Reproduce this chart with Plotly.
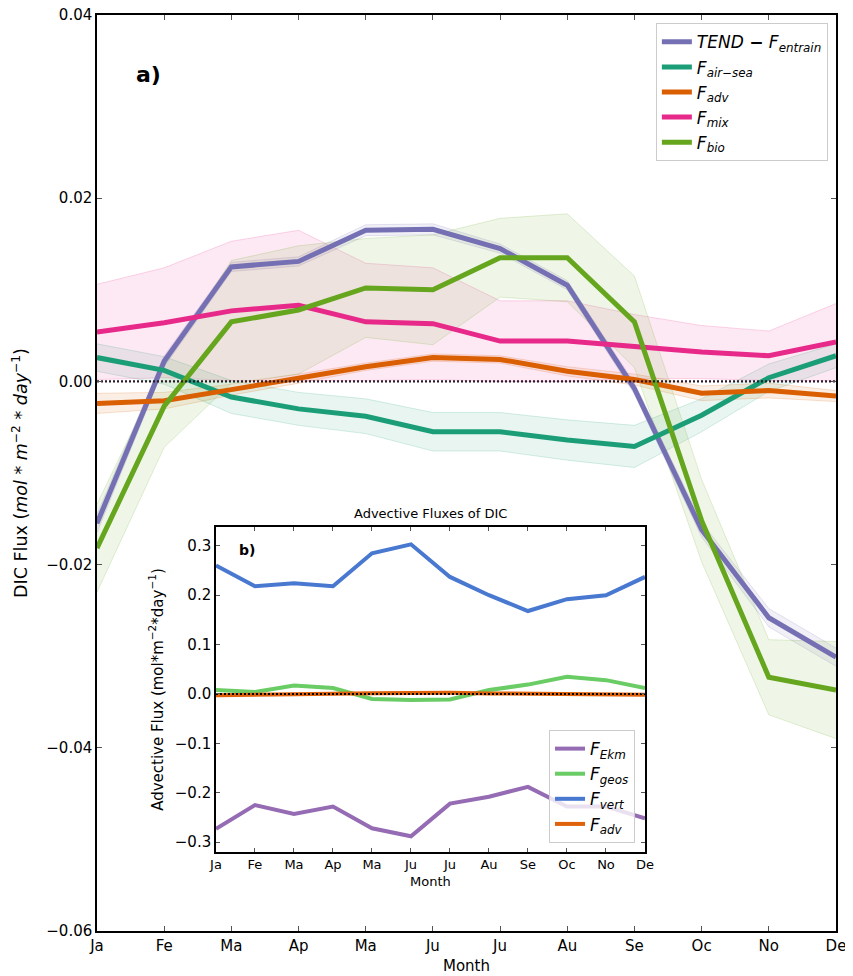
import plotly.graph_objects as go

months = ["Ja", "Fe", "Ma", "Ap", "Ma", "Ju", "Ju", "Au", "Se", "Oc", "No", "De"]
xi = list(range(12))

# Panel a) DIC flux budget terms (mol m-2 day-1)
tend = [-0.0155, 0.0022, 0.0125, 0.0131, 0.0165, 0.0166, 0.0145, 0.0105, -0.0008, -0.0162, -0.0258, -0.0301]
tend_err = [0.0010, 0.0006, 0.0005, 0.0005, 0.0006, 0.0006, 0.0005, 0.0005, 0.0006, 0.0008, 0.0010, 0.0010]
air_sea = [0.0026, 0.0012, -0.0017, -0.0030, -0.0038, -0.0055, -0.0055, -0.0064, -0.0071, -0.0037, 0.0004, 0.0028]
air_sea_err = [0.0015, 0.0015, 0.0018, 0.0018, 0.0019, 0.0021, 0.0021, 0.0022, 0.0023, 0.0018, 0.0015, 0.0013]
adv = [-0.0024, -0.0021, -0.0009, 0.0003, 0.0016, 0.0026, 0.0024, 0.0011, 0.0002, -0.0013, -0.0010, -0.0016]
adv_err = [0.0011, 0.0009, 0.0006, 0.0005, 0.0004, 0.0004, 0.0004, 0.0005, 0.0006, 0.0008, 0.0008, 0.0006]
mix = [0.0054, 0.0064, 0.0077, 0.0083, 0.0065, 0.0063, 0.0044, 0.0044, 0.0038, 0.0032, 0.0028, 0.0043]
mix_err = [0.0052, 0.0060, 0.0076, 0.0082, 0.0064, 0.0061, 0.0044, 0.0044, 0.0035, 0.0029, 0.0027, 0.0042]
bio = [-0.0182, -0.0027, 0.0065, 0.0078, 0.0102, 0.0100, 0.0135, 0.0135, 0.0065, -0.0152, -0.0323, -0.0337]
bio_err = [0.0048, 0.0045, 0.0067, 0.0070, 0.0054, 0.0060, 0.0043, 0.0048, 0.0050, 0.0045, 0.0041, 0.0053]

# Panel b) advective fluxes
f_ekm = [-0.273, -0.225, -0.243, -0.228, -0.272, -0.288, -0.222, -0.208, -0.188, -0.228, -0.228, -0.252]
f_geos = [0.008, 0.004, 0.017, 0.012, -0.010, -0.012, -0.011, 0.008, 0.019, 0.035, 0.028, 0.012]
f_vert = [0.260, 0.218, 0.224, 0.218, 0.285, 0.303, 0.237, 0.200, 0.168, 0.192, 0.200, 0.237]
f_adv_b = [-0.0024, -0.0021, -0.0009, 0.0003, 0.0016, 0.0026, 0.0024, 0.0011, 0.0002, -0.0013, -0.0010, -0.0016]

FONT = "DejaVu Sans"

def rgba(h, a):
    h = h.lstrip("#")
    r, g, b = int(h[0:2], 16), int(h[2:4], 16), int(h[4:6], 16)
    return f"rgba({r},{g},{b},{a})"

fig = go.Figure()

series = [
    ("<i>TEND</i> <b>−</b> <i>F<sub>entrain</sub></i>", tend, tend_err, "#7570b3"),
    ("<i>F<sub>air−sea</sub></i>", air_sea, air_sea_err, "#1b9e77"),
    ("<i>F<sub>adv</sub></i>", adv, adv_err, "#d95f02"),
    ("<i>F<sub>mix</sub></i>", mix, mix_err, "#e7298a"),
    ("<i>F<sub>bio</sub></i>", bio, bio_err, "#66a61e"),
]

# bands first
for name, y, e, c in series:
    up = [a + b for a, b in zip(y, e)]
    lo = [a - b for a, b in zip(y, e)]
    fig.add_trace(go.Scatter(x=xi, y=up, mode="lines", line=dict(color=rgba(c, 0.18), width=1),
                             showlegend=False, hoverinfo="skip", xaxis="x", yaxis="y"))
    fig.add_trace(go.Scatter(x=xi, y=lo, mode="lines", line=dict(color=rgba(c, 0.18), width=1),
                             fill="tonexty", fillcolor=rgba(c, 0.10),
                             showlegend=False, hoverinfo="skip", xaxis="x", yaxis="y"))

for name, y, e, c in series:
    fig.add_trace(go.Scatter(x=xi, y=y, mode="lines", name=name, line=dict(color=c, width=5),
                             xaxis="x", yaxis="y", legend="legend"))

# zero line main
fig.add_trace(go.Scatter(x=[0, 11], y=[0, 0], mode="lines", line=dict(color="#2a1a2a", width=2.2, dash="2px,2px"),
                         showlegend=False, hoverinfo="skip", xaxis="x", yaxis="y"))

# inset
inset = [
    ("<i>F<sub>Ekm</sub></i>", f_ekm, "#956cb4"),
    ("<i>F<sub>geos</sub></i>", f_geos, "#6acc64"),
    ("<i>F<sub>vert</sub></i>", f_vert, "#4878d0"),
    ("<i>F<sub>adv</sub></i>", f_adv_b, "#e0620a"),
]
for name, y, c in inset:
    fig.add_trace(go.Scatter(x=xi, y=y, mode="lines", name=name, line=dict(color=c, width=4),
                             xaxis="x2", yaxis="y2", legend="legend2"))
fig.add_trace(go.Scatter(x=[0, 11], y=[0, 0], mode="lines", line=dict(color="black", width=1.8, dash="2px,2px"),
                         showlegend=False, hoverinfo="skip", xaxis="x2", yaxis="y2"))

ax_common = dict(showline=True, linecolor="black", linewidth=1.5, mirror="ticks", ticks="inside",
                 tickcolor="#555555", showgrid=False, zeroline=False, automargin=False,
                 ticklabeloverflow="allow")

inset_y_range = [-0.32, 0.338]

fig.update_layout(
    width=845, height=968,
    margin=dict(l=89, r=17, t=7, b=45),
    paper_bgcolor="white", plot_bgcolor="white",
    font=dict(family=FONT, color="black"),
    xaxis=dict(domain=[0, 1], range=[0, 11], tickmode="array", tickvals=xi, ticktext=months,
               ticklen=5, tickfont=dict(size=15),
               title=dict(text="Month", font=dict(size=15), standoff=7), **ax_common),
    yaxis=dict(domain=[0, 1], range=[-0.06, 0.04], dtick=0.02, tickformat=".2f", ticklen=5,
               tickfont=dict(size=15),
               title=dict(text="DIC Flux (<i>mol</i> * <i>m</i><sup>−2</sup> * <i>day</i><sup>−1</sup>)",
                          font=dict(size=17.5), standoff=14), **ax_common),
    xaxis2=dict(domain=[0.161, 0.7415], anchor="y2", range=[0, 11], tickmode="array", tickvals=xi,
                ticktext=months, ticklen=4, tickfont=dict(size=13),
                title=dict(text="Month", font=dict(size=13), standoff=6), **ax_common),
    yaxis2=dict(domain=[0.0862, 0.441], anchor="x2", range=inset_y_range, dtick=0.1, tickformat=".1f",
                ticklen=4, tickfont=dict(size=15),
                title=dict(text="Advective Flux (mol*m<sup>−2</sup>*day<sup>−1</sup>)", font=dict(size=15),
                           standoff=8), **ax_common),
    legend=dict(x=0.989, xanchor="right", y=0.991, yanchor="top", bgcolor="rgba(255,255,255,0.85)",
                bordercolor="#cccccc", borderwidth=1, font=dict(size=17, family=FONT),
                tracegroupgap=0, itemwidth=30, traceorder="normal"),
    legend2=dict(x=0.728, xanchor="right", y=0.096, yanchor="bottom", bgcolor="rgba(255,255,255,0.8)",
                 bordercolor="#cccccc", borderwidth=1, font=dict(size=17, family=FONT),
                 tracegroupgap=0, itemwidth=30, traceorder="normal"),
    shapes=[dict(type="rect", xref="x2", yref="y2", x0=0, x1=11, y0=inset_y_range[0], y1=inset_y_range[1],
                 fillcolor="white", line=dict(width=0), layer="below")],
    annotations=[
        dict(text="<b>a)</b>", xref="paper", yref="paper", x=0.05, y=0.935, xanchor="left", yanchor="middle",
             showarrow=False, font=dict(size=22)),
        dict(text="<b>b)</b>", xref="x2 domain", yref="y2 domain", x=0.05, y=0.93, xanchor="left",
             yanchor="middle", showarrow=False, font=dict(size=14)),
        dict(text="Advective Fluxes of DIC", xref="x2 domain", yref="y2 domain", x=0.5, y=1.0,
             xanchor="center", yanchor="bottom", yshift=4, showarrow=False, font=dict(size=13)),
    ],
)

fig.write_html("out.html")
